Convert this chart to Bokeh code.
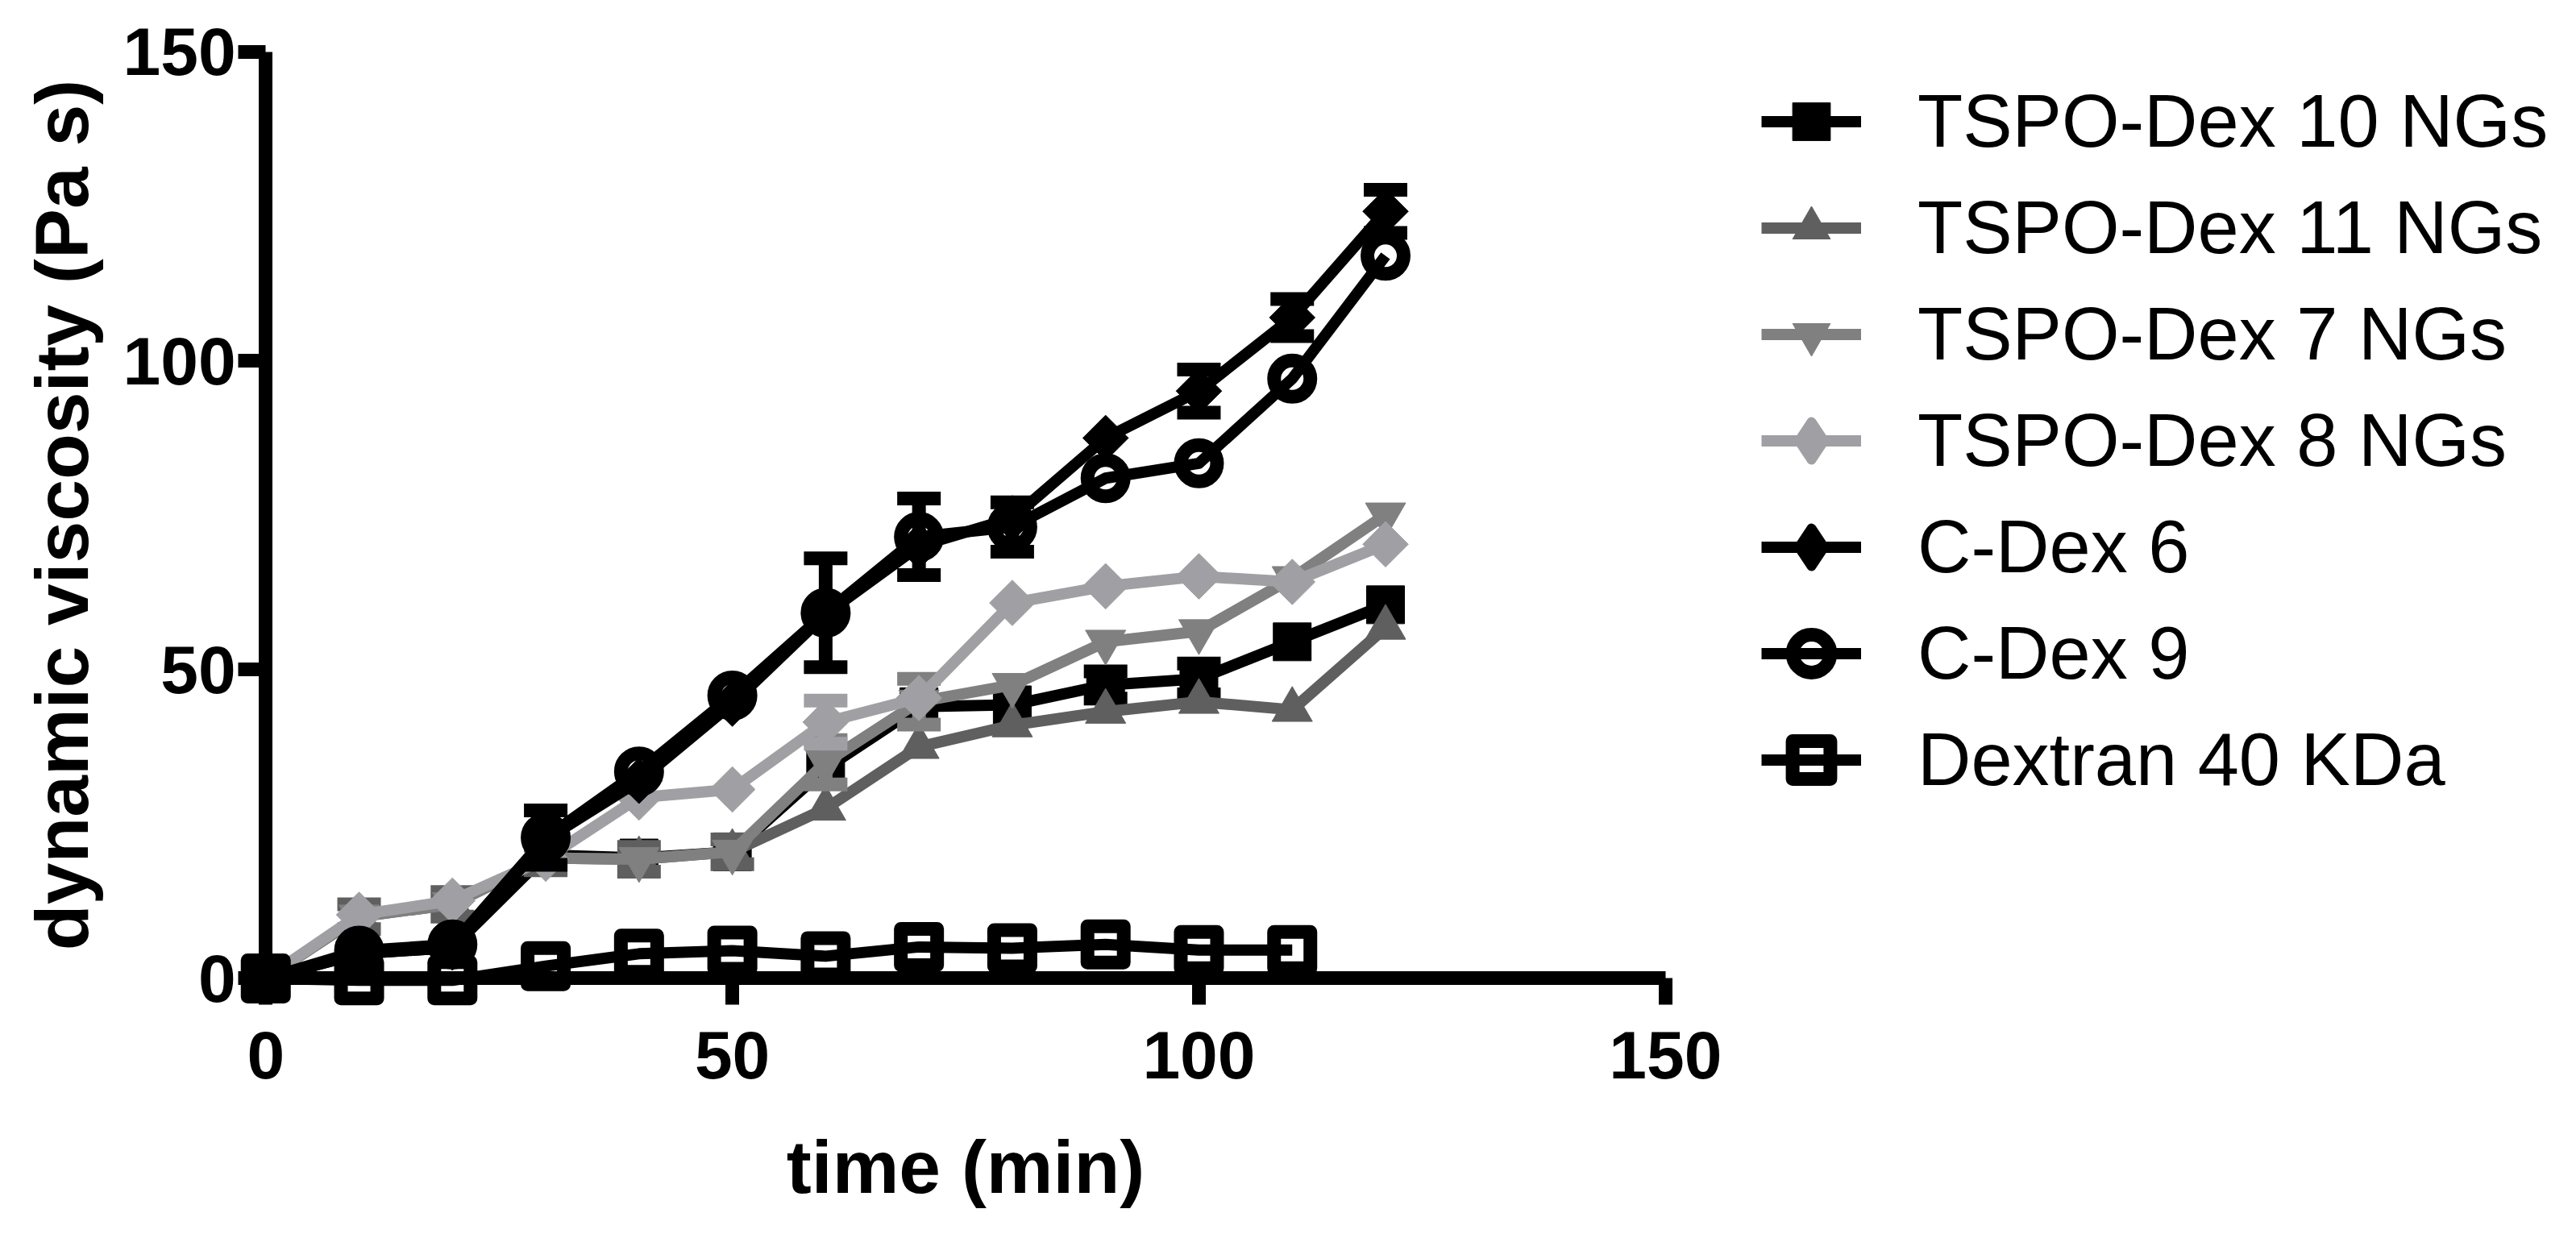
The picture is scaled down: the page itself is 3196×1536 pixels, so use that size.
from bokeh.plotting import figure
from bokeh.models import Range1d, FixedTicker, Legend, LegendItem
from bokeh.embed import file_html
from bokeh.resources import INLINE
import numpy as np

# ---------------- data ----------------
time = [0, 10, 20, 30, 40, 50, 60, 70, 80, 90, 100, 110, 120]
time_dextran = [0, 10, 20, 30, 40, 50, 60, 70, 80, 90, 100, 110]

tspo10 = [0, 4, 5, 20, 19.5, 20.5, 34, 44, 44.3, 47.5, 48.5, 54.5, 60.5]
tspo10_err = [0, 0, 0, 0, 0, 0, 0, 0, 0, 2.2, 2.5, 0, 0]

tspo11 = [0, 10, 12, 19.5, 19.3, 20.5, 27.5, 37.5, 41, 43.2, 44.8, 43.5, 56.8]
tspo11_err = [0, 2, 2, 2, 2, 2, 0, 0, 0, 0, 0, 0, 0]

tspo7 = [0, 10, 12, 19.5, 19.3, 20.5, 35, 44.8, 47.5, 54.5, 56.2, 64.8, 75.1]
tspo7_err = [0, 0, 0, 0, 0, 0, 3.6, 3.7, 0, 0, 0, 0, 0]

tspo8 = [0, 10.3, 12.6, 19.4, 29.3, 30.6, 41.5, 45.4, 60.8, 63.5, 65.1, 64.2, 70.3]
tspo8_err = [0, 0, 0, 0, 0, 0, 3.5, 0, 0, 0, 0, 0, 0]

cdex6 = [0, 4, 5, 22.5, 32, 44.5, 59, 70, 74.5, 87.5, 95.1, 107, 124.2]
cdex6_err = [0, 0, 0, 0, 0, 0, 0, 0, 0, 0, 3.5, 3.0, 3.5]

cdex9 = [0, 4.5, 5.5, 22.8, 33.5, 45.8, 59.2, 71.5, 73.1, 81.0, 83.4, 97.1, 117.0]
cdex9_err = [0, 0, 0, 4.4, 0, 0, 8.8, 6.2, 4.0, 0, 0, 0, 0]

dextran = [0, -0.3, -0.3, 2.0, 4.0, 4.5, 3.6, 5.1, 4.9, 5.5, 4.6, 4.6]
dextran_err = [0, 0, 0, 0, 0, 0, 0, 0, 0, 0, 0, 0]

labels = ["TSPO-Dex 10 NGs", "TSPO-Dex 11 NGs", "TSPO-Dex 7 NGs", "TSPO-Dex 8 NGs",
          "C-Dex 6", "C-Dex 9", "Dextran 40 KDa"]
axis_ticks = [0, 50, 100, 150]
x_axis_title = "time (min)"
y_axis_title = "dynamic viscosity (Pa s)"

# ---------------- styles ----------------
BLACK = "#000000"
DARK = "#5f5f5f"
MID = "#808080"
LIGHT = "#a0a0a4"

series = [
    # label, x, y, err, color, marker, size, fill, marker line width, angle, legend marker
    (labels[0], time, tspo10, tspo10_err, BLACK, "square", 47, BLACK, 1, 0.0, None),
    (labels[1], time, tspo11, tspo11_err, DARK, "triangle", 50, DARK, 1, 0.0, None),
    (labels[2], time, tspo7, tspo7_err, MID, "inverted_triangle", 50, MID, 1, 0.0, None),
    (labels[3], time, tspo8, tspo8_err, LIGHT, "square", 40, LIGHT, 1, np.pi / 4, "diamond"),
    (labels[4], time, cdex6, cdex6_err, BLACK, "square", 40, BLACK, 1, np.pi / 4, "diamond"),
    (labels[5], time, cdex9, cdex9_err, BLACK, "circle", 45, None, 17, 0.0, None),
    (labels[6], time_dextran, dextran, dextran_err, BLACK, "square", 45, None, 17, 0.0, None),
]

FONT = "Liberation Sans"

# the frame fills the whole figure; the axes sit at the data origin
p = figure(
    frame_width=3180, frame_height=1520,
    min_border_left=0, min_border_right=0,
    min_border_top=0, min_border_bottom=0,
    x_range=Range1d(-28.44, 246.24), y_range=Range1d(-40.0, 158.35),
    output_backend="svg", toolbar_location=None, title=None,
)
p.background_fill_color = "white"
p.border_fill_color = "white"
p.outline_line_color = None
p.xgrid.visible = False
p.ygrid.visible = False

items = []
for lab, xs, ys, errs, col, mk, sz, fill, mlw, ang, legmk in series:
    ex = [x for x, e in zip(xs, errs) if e > 0]
    ey = [y for y, e in zip(ys, errs) if e > 0]
    ee = [e for e in errs if e > 0]
    if ex:
        lo = [y - e for y, e in zip(ey, ee)]
        hi = [y + e for y, e in zip(ey, ee)]
        p.segment(x0=ex, y0=lo, x1=ex, y1=hi, line_color=col, line_width=17)
        p.rect(x=ex + ex, y=lo + hi, width=54, height=17,
               width_units="screen", height_units="screen",
               fill_color=col, line_color=None)
    lr = p.line(xs, ys, line_color=col, line_width=14, line_join="round")
    sr = p.scatter(xs, ys, marker=mk, size=sz, angle=ang,
                   fill_color=fill, line_color=col, line_width=mlw,
                   line_join="round")
    if legmk is not None:
        # legend-only glyph (size 0 in the plot): legends ignore marker angle
        proxy = p.scatter(xs, ys, marker=legmk, size=0, fill_color=fill,
                          line_color=col, line_width=12, line_join="round")
        items.append(LegendItem(label=lab, renderers=[lr, proxy]))
    else:
        items.append(LegendItem(label=lab, renderers=[lr, sr]))

p.xaxis.fixed_location = 0
p.yaxis.fixed_location = 0
for ax in (p.xaxis[0], p.yaxis[0]):
    ax.bounds = (0, 150)
    ax.ticker = FixedTicker(ticks=axis_ticks)
    ax.axis_line_width = 17
    ax.axis_line_color = BLACK
    ax.major_tick_line_width = 17
    ax.major_tick_line_color = BLACK
    ax.major_tick_in = 0
    ax.minor_tick_line_color = None
    ax.major_label_text_font = FONT
    ax.major_label_text_font_style = "bold"
    ax.major_label_text_font_size = "84px"
    ax.major_label_text_color = BLACK
    ax.axis_label_text_font = FONT
    ax.axis_label_text_font_style = "bold"
    ax.axis_label_text_font_size = "93px"
    ax.axis_label_text_color = BLACK

p.xaxis[0].axis_label = x_axis_title
p.xaxis[0].major_tick_out = 33
p.xaxis[0].major_label_standoff = 33
p.xaxis[0].axis_label_standoff = 55

p.yaxis[0].axis_label = y_axis_title
p.yaxis[0].major_tick_out = 34
p.yaxis[0].major_label_standoff = 3
p.yaxis[0].axis_label_standoff = 20

legend = Legend(
    items=items, location=(2185, 519),
    glyph_width=124, glyph_height=117, spacing=15,
    padding=0, margin=0, label_standoff=70,
    label_text_font=FONT, label_text_font_size="92px",
    label_text_color=BLACK, label_text_baseline="middle",
    border_line_color=None, background_fill_alpha=0,
)
p.add_layout(legend)

open("out.html", "w").write(file_html(p, INLINE))
